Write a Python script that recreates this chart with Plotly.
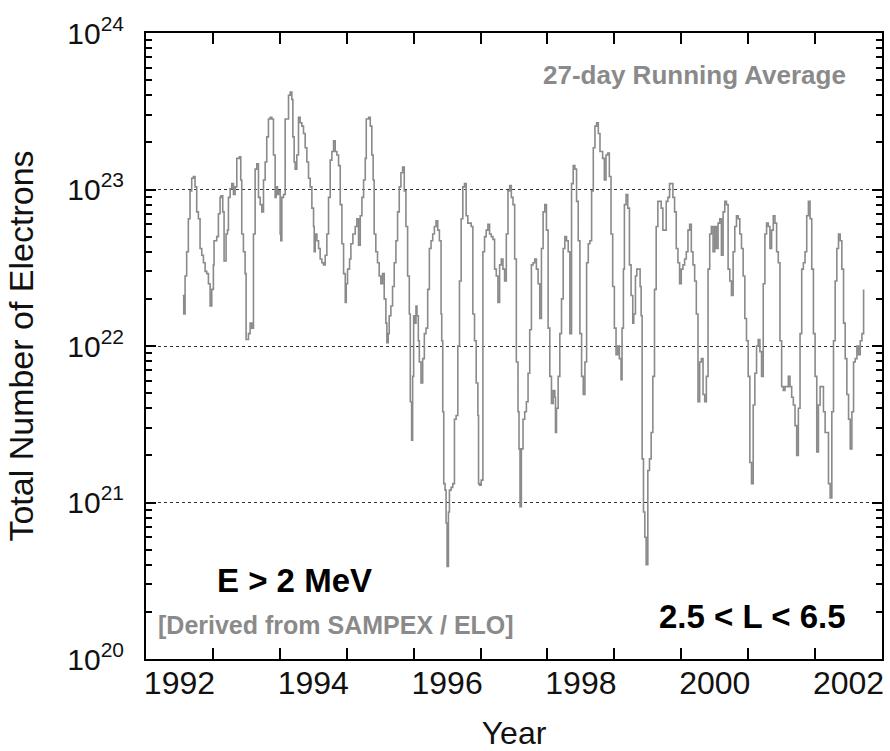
import plotly.graph_objects as go

# ---- data (27-day running average, E > 2 MeV) ----
YEARS_1992_1995 = [
    1992.549, 1992.564, 1992.584, 1992.608, 1992.633, 1992.658, 1992.683, 1992.708, 1992.733, 1992.758,
    1992.783, 1992.808, 1992.833, 1992.858, 1992.883, 1992.908, 1992.933, 1992.958, 1992.983, 1993.007,
    1993.017, 1993.057, 1993.082, 1993.107, 1993.122, 1993.147, 1993.167, 1993.197, 1993.217, 1993.232,
    1993.257, 1993.282, 1993.307, 1993.332, 1993.357, 1993.397, 1993.416, 1993.431, 1993.456, 1993.481,
    1993.496, 1993.531, 1993.556, 1993.581, 1993.606, 1993.631, 1993.656, 1993.681, 1993.706, 1993.731,
    1993.756, 1993.781, 1993.805, 1993.830, 1993.855, 1993.880, 1993.905, 1993.930, 1993.945, 1993.965,
    1993.980, 1994.005, 1994.015, 1994.030, 1994.055, 1994.080, 1994.105, 1994.130, 1994.155, 1994.180,
    1994.195, 1994.214, 1994.229, 1994.254, 1994.279, 1994.304, 1994.329, 1994.354, 1994.379, 1994.404,
    1994.429, 1994.454, 1994.479, 1994.504, 1994.514, 1994.529, 1994.554, 1994.579, 1994.603, 1994.628,
    1994.653, 1994.678, 1994.703, 1994.728, 1994.753, 1994.778, 1994.803, 1994.828, 1994.853, 1994.878,
    1994.903, 1994.928, 1994.953, 1994.978, 1994.993, 1995.012, 1995.042, 1995.062, 1995.092, 1995.127,
    1995.152, 1995.177, 1995.202, 1995.227, 1995.252, 1995.277, 1995.292, 1995.327, 1995.352,
]
ELECTRONS_1992_1995 = [
    2.1e22, 1.6e22, 2.8e22, 4.0e22, 6.5e22, 9.8e22, 1.18e23, 1.21e23, 1.04e23, 7.2e22,
    6.5e22, 4.2e22, 3.8e22, 3.4e22, 3.0e22, 2.9e22, 2.5e22, 1.8e22, 2.3e22, 3.3e22,
    4.7e22, 5.0e22, 7.0e22, 8.9e22, 9.1e22, 7.2e22, 3.5e22, 5.2e22, 5.5e22, 8.9e22,
    1.01e23, 1.09e23, 9.3e22, 1.04e23, 1.58e23, 1.62e23, 1.15e23, 5.2e22, 4.0e22, 2.9e22,
    1.1e22, 1.2e22, 1.4e22, 1.3e22, 5.2e22, 1.35e23, 1.46e23, 8.9e22, 8.0e22, 7.2e22,
    1.15e23, 1.5e23, 2.17e23, 2.82e23, 2.89e23, 2.82e23, 1.66e23, 8.9e22, 1.04e23, 9.3e22,
    9.8e22, 5.2e22, 4.7e22, 8.9e22, 9.3e22, 2.82e23, 2.82e23, 4.0e23, 4.2e23, 3.76e23,
    2.17e23, 1.5e23, 1.35e23, 1.66e23, 2.89e23, 2.67e23, 2.54e23, 2.28e23, 1.85e23, 1.5e23,
    1.18e23, 1.04e23, 7.6e22, 5.8e22, 4.0e22, 5.2e22, 4.7e22, 4.2e22, 3.6e22, 3.4e22,
    3.3e22, 3.8e22, 5.2e22, 8.9e22, 1.54e23, 1.75e23, 2.05e23, 1.75e23, 1.66e23, 1.42e23,
    8.0e22, 4.5e22, 2.9e22, 1.9e22, 2.5e22, 3.1e22, 3.6e22, 4.5e22, 5.2e22, 5.8e22,
    6.5e22, 4.4e22, 6.8e22, 8.9e22, 1.15e23, 1.58e23, 2.82e23, 2.89e23, 2.54e23,
]

YEARS_1995_1998 = [
    1995.375, 1995.395, 1995.41, 1995.435, 1995.46, 1995.485, 1995.51, 1995.535, 1995.56, 1995.585,
    1995.60, 1995.62, 1995.635, 1995.66, 1995.685, 1995.71, 1995.735, 1995.76, 1995.785, 1995.81,
    1995.835, 1995.86, 1995.885, 1995.91, 1995.935, 1995.95, 1995.97, 1995.985, 1996.0, 1996.02,
    1996.035, 1996.05, 1996.07, 1996.085, 1996.11, 1996.135, 1996.16, 1996.185, 1996.21, 1996.235,
    1996.26, 1996.285, 1996.31, 1996.335, 1996.36, 1996.385, 1996.41, 1996.42, 1996.435, 1996.45,
    1996.47, 1996.485, 1996.50, 1996.52, 1996.535, 1996.56, 1996.585, 1996.61, 1996.635, 1996.66,
    1996.685, 1996.71, 1996.735, 1996.76, 1996.785, 1996.81, 1996.835, 1996.86, 1996.885, 1996.91,
    1996.935, 1996.96, 1996.97, 1996.985, 1997.01, 1997.035, 1997.06, 1997.085, 1997.11, 1997.135,
    1997.16, 1997.185, 1997.21, 1997.235, 1997.26, 1997.285, 1997.31, 1997.335, 1997.36, 1997.385,
    1997.41, 1997.435, 1997.46, 1997.485, 1997.51, 1997.535, 1997.56, 1997.575, 1997.59, 1997.61,
    1997.635, 1997.66, 1997.685, 1997.71, 1997.735, 1997.76, 1997.785, 1997.81, 1997.835, 1997.86,
    1997.885, 1997.91, 1997.935, 1997.96, 1997.985, 1998.01, 1998.035, 1998.06, 1998.085, 1998.11,
    1998.12, 1998.135, 1998.16, 1998.185, 1998.21, 1998.235, 1998.26, 1998.285, 1998.31, 1998.335,
    1998.36, 1998.385, 1998.41, 1998.435, 1998.46, 1998.485, 1998.51, 1998.535, 1998.56, 1998.585,
    1998.61, 1998.635, 1998.66, 1998.685, 1998.71, 1998.735, 1998.76, 1998.785,
]
ELECTRONS_1995_1998 = [
    1.66e23, 1.15e23, 5.2e22, 4.0e22, 3.4e22, 2.8e22, 2.5e22, 2.9e22, 2.0e22, 1.4e22,
    1.05e22, 1.2e22, 1.56e22, 1.8e22, 2.4e22, 3.4e22, 4.7e22, 7.2e22, 1.04e23, 1.28e23,
    1.39e23, 9.8e22, 5.8e22, 2.8e22, 1.6e22, 4.4e21, 2.5e21, 6.4e21, 1.56e22, 1.4e22,
    1.8e22, 1.56e22, 1.08e22, 7.9e21, 5.8e21, 8.3e21, 1.2e22, 1.3e22, 2.3e22, 4.2e22,
    4.7e22, 5.2e22, 5.8e22, 6.3e22, 5.5e22, 4.7e22, 1.6e22, 1.08e22, 3.8e21, 1.32e21,
    1.2e21, 7.4e20, 3.9e20, 8.7e20, 1.2e21, 1.25e21, 1.32e21, 3.4e21, 3.6e21, 1.0e22,
    2.6e22, 6.5e22, 1.04e23, 1.09e23, 6.8e22, 6.1e22, 6.1e22, 5.8e22, 1.6e22, 1.08e22,
    5.8e21, 3.6e21, 1.32e21, 1.29e21, 1.39e21, 4.0e22, 5.0e22, 5.5e22, 6.0e22, 5.2e22,
    5.0e22, 4.8e22, 3.1e22, 2.8e22, 1.9e22, 3.3e22, 3.6e22, 3.1e22, 2.6e22, 5.2e22,
    9.8e22, 1.06e23, 8.9e22, 8.0e22, 3.6e22, 7.9e21, 3.8e21, 2.2e21, 9.4e20, 2.2e21,
    3.4e21, 3.8e21, 4.4e21, 6.7e21, 1.27e22, 3.3e22, 3.4e22, 3.6e22, 3.1e22, 2.5e22,
    1.5e22, 4.2e22, 7.2e22, 8.0e22, 5.5e22, 1.3e22, 6.4e21, 4.3e21, 5.2e21, 4.7e21,
    2.8e21, 4.0e21, 6.4e21, 1.2e22, 2.0e22, 4.2e22, 5.0e22, 4.7e22, 4.0e22, 1.2e22,
    1.09e23, 1.42e23, 1.35e23, 8.4e22, 4.7e22, 1.2e22, 6.4e21, 4.9e21, 7.9e21, 3.4e22,
    4.5e22, 4.7e22, 9.8e22, 1.85e23, 2.54e23, 2.67e23, 2.28e23, 1.75e23,
]

YEARS_1998_2002 = [
    1998.825, 1998.85, 1998.875, 1998.90, 1998.925, 1998.95, 1998.975, 1999.0, 1999.025, 1999.05,
    1999.075, 1999.10, 1999.115, 1999.135, 1999.15, 1999.175, 1999.20, 1999.225, 1999.25, 1999.275,
    1999.29, 1999.315, 1999.335, 1999.36, 1999.385, 1999.40, 1999.415, 1999.435, 1999.455, 1999.475,
    1999.50, 1999.525, 1999.55, 1999.575, 1999.60, 1999.625, 1999.65, 1999.675, 1999.70, 1999.725,
    1999.75, 1999.775, 1999.80, 1999.825, 1999.85, 1999.875, 1999.90, 1999.925, 1999.95, 1999.975,
    2000.0, 2000.025, 2000.05, 2000.075, 2000.10, 2000.125, 2000.15, 2000.175, 2000.20, 2000.225,
    2000.25, 2000.275, 2000.30, 2000.325, 2000.35, 2000.375, 2000.40, 2000.425, 2000.45, 2000.475,
    2000.50, 2000.525, 2000.55, 2000.575, 2000.60, 2000.625, 2000.65, 2000.675, 2000.70, 2000.725,
    2000.75, 2000.775, 2000.80, 2000.825, 2000.85, 2000.875, 2000.90, 2000.925, 2000.95, 2000.975,
    2001.0, 2001.025, 2001.05, 2001.075, 2001.10, 2001.125, 2001.15, 2001.175, 2001.20, 2001.225,
    2001.25, 2001.275, 2001.30, 2001.325, 2001.35, 2001.375, 2001.40, 2001.425, 2001.45, 2001.475,
    2001.50, 2001.525, 2001.55, 2001.575, 2001.60, 2001.625, 2001.65, 2001.675, 2001.70, 2001.725,
    2001.75, 2001.775, 2001.80, 2001.825, 2001.85, 2001.875, 2001.90, 2001.925, 2001.95, 2001.975,
    2002.0, 2002.025, 2002.05, 2002.075, 2002.10, 2002.125, 2002.15, 2002.175, 2002.20, 2002.225,
    2002.25, 2002.275, 2002.30, 2002.325, 2002.35, 2002.375, 2002.40, 2002.425, 2002.45, 2002.475,
    2002.50, 2002.525, 2002.55, 2002.575, 2002.60, 2002.625, 2002.65, 2002.675, 2002.70, 2002.725,
]
ELECTRONS_1998_2002 = [
    1.58e23, 1.15e23, 1.66e23, 1.71e23, 1.21e23, 5.2e22, 2.4e22, 1.3e22, 8.8e21, 1.0e22,
    8.3e21, 6.1e21, 1.3e22, 3.1e22, 8.0e22, 9.3e22, 7.6e22, 3.3e22, 2.1e22, 1.4e22,
    1.6e22, 2.8e22, 3.1e22, 3.1e22, 2.4e22, 1.56e22, 1.9e21, 8.7e20, 6.0e20, 4.0e20,
    1.6e21, 1.9e21, 2.8e21, 6.4e21, 2.3e22, 5.8e22, 8.4e22, 8.4e22, 7.6e22, 5.5e22,
    5.5e22, 8.4e22, 8.9e22, 1.09e23, 1.09e23, 8.9e22, 7.2e22, 4.2e22, 3.4e22, 2.5e22,
    3.1e22, 3.3e22, 3.6e22, 4.0e22, 5.5e22, 6.0e22, 4.0e22, 3.3e22, 2.6e22, 1.6e22,
    4.4e21, 7.9e21, 8.3e21, 4.9e21, 4.4e21, 6.4e21, 3.1e22, 5.2e22, 5.8e22, 4.0e22,
    5.8e22, 4.2e22, 6.1e22, 6.5e22, 3.8e22, 7.2e22, 8.4e22, 8.0e22, 3.1e22, 2.6e22,
    2.1e22, 4.0e22, 5.8e22, 6.8e22, 6.5e22, 5.2e22, 4.2e22, 2.8e22, 1.5e22, 1.08e22,
    6.4e21, 1.8e21, 1.32e21, 4.2e21, 6.7e21, 1.0e22, 1.1e22, 9.2e21, 6.4e21, 2.5e22,
    5.2e22, 6.1e22, 5.8e22, 4.2e22, 5.5e22, 6.8e22, 6.1e22, 4.0e22, 3.4e22, 1.08e22,
    5.5e21, 5.2e21, 5.5e21, 5.5e21, 6.4e21, 5.5e21, 4.7e21, 4.2e21, 3.1e21, 2.0e21,
    4.0e21, 1.2e22, 3.1e22, 3.4e22, 4.0e22, 6.8e22, 8.4e22, 6.5e22, 3.1e22, 1.2e22,
    6.4e21, 2.1e21, 4.2e21, 5.5e21, 5.5e21, 3.8e21, 2.8e21, 2.8e21, 1.32e21, 1.07e21,
    3.8e21, 1.08e22, 2.6e22, 4.2e22, 5.2e22, 4.7e22, 3.1e22, 1.4e22, 8.3e21, 4.9e21,
    3.4e21, 2.2e21, 3.8e21, 7.9e21, 8.3e21, 1.0e22, 8.8e21, 1.08e22, 1.2e22, 2.3e22,
]

YEAR_LABELS = ["1992", "1994", "1996", "1998", "2000", "2002"]
DECADE_LABELS = ["10<sup>20</sup>", "10<sup>21</sup>", "10<sup>22</sup>", "10<sup>23</sup>", "10<sup>24</sup>"]

assert len(YEARS_1992_1995) == len(ELECTRONS_1992_1995)
assert len(YEARS_1995_1998) == len(ELECTRONS_1995_1998)
assert len(YEARS_1998_2002) == len(ELECTRONS_1998_2002)

years = YEARS_1992_1995 + YEARS_1995_1998 + YEARS_1998_2002
electrons = ELECTRONS_1992_1995 + ELECTRONS_1995_1998 + ELECTRONS_1998_2002

FONT = "Liberation Sans, Arial, Helvetica, sans-serif"
GRAY = "#8a8a8a"

fig = go.Figure()
fig.add_trace(go.Scatter(
    x=years, y=electrons, mode="lines",
    line=dict(color=GRAY, width=1.6, shape="hv"),
    showlegend=False, hoverinfo="x+y",
))

label_pos = [int(t) + 0.5 for t in YEAR_LABELS]
year_bounds = list(range(1993, 2003))
decades = [10.0 ** k for k in range(20, 25)]
minor_y = [m * 10.0 ** k for k in range(20, 24) for m in range(2, 10)]

fig.update_layout(
    width=890, height=751,
    margin=dict(l=146, r=8, t=33, b=92, autoexpand=False),
    paper_bgcolor="white", plot_bgcolor="white",
    font=dict(family=FONT, color="black"),
    xaxis=dict(
        range=[1992, 2003], automargin=False,
        tickmode="array", tickvals=label_pos, ticktext=YEAR_LABELS,
        ticks="", tickfont=dict(size=32, family=FONT, color="#111"),
        ticklabelstandoff=-5,
        showgrid=False, zeroline=False,
        showline=True, linecolor="black", linewidth=2, mirror="ticks",
        minor=dict(tickmode="array", tickvals=year_bounds, ticks="inside",
                   ticklen=11, tickwidth=1.5, tickcolor="black", showgrid=False),
        title=dict(text="Year", font=dict(size=32, family=FONT, color="#111"), standoff=23),
    ),
    yaxis=dict(
        type="log", range=[20, 24], automargin=False,
        tickmode="array", tickvals=decades, ticktext=DECADE_LABELS,
        ticks="inside", ticklen=10, tickwidth=1.5, tickcolor="black",
        tickfont=dict(size=30, family=FONT, color="#111"),
        ticklabelstandoff=14,
        showgrid=True, gridcolor="#333333", griddash="dot", gridwidth=1,
        zeroline=False,
        showline=True, linecolor="black", linewidth=2, mirror="ticks",
        minor=dict(tickmode="array", tickvals=minor_y, ticks="inside",
                   ticklen=6, tickwidth=1.5, tickcolor="black", showgrid=False),
        title=dict(text="Total Number of Electrons", font=dict(size=34, family=FONT, color="#111"), standoff=23),
    ),
    annotations=[
        dict(text="<b>27-day Running Average</b>", xref="paper", yref="paper",
             x=0.954, y=0.933, xanchor="right", yanchor="middle", showarrow=False,
             font=dict(size=26, family=FONT, color=GRAY)),
        dict(text="<b>E > 2 MeV</b>", xref="paper", yref="paper",
             x=0.094, y=0.126, xanchor="left", yanchor="middle", showarrow=False,
             font=dict(size=33, family=FONT, color="black")),
        dict(text="<b>[Derived from SAMPEX / ELO]</b>", xref="paper", yref="paper",
             x=0.014, y=0.054, xanchor="left", yanchor="middle", showarrow=False,
             font=dict(size=25, family=FONT, color=GRAY)),
        dict(text="<b>2.5 < L < 6.5</b>", xref="paper", yref="paper",
             x=0.954, y=0.068, xanchor="right", yanchor="middle", showarrow=False,
             font=dict(size=33, family=FONT, color="black")),
    ],
)

fig.write_html(
    "out.html",
    config={"displayModeBar": False},
    post_script="document.body.style.margin='0px'; document.body.style.overflow='hidden';",
)
